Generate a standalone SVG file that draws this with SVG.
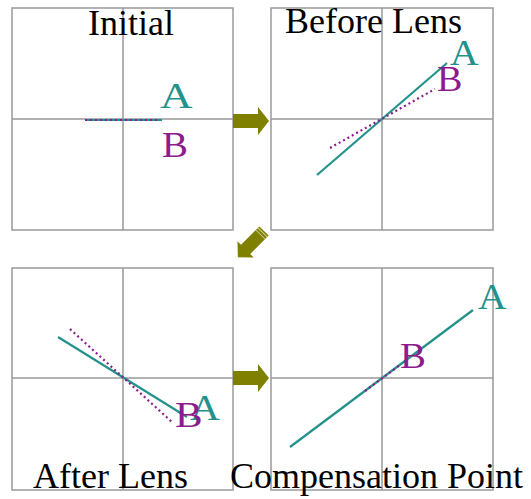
<svg xmlns="http://www.w3.org/2000/svg" width="531" height="499" viewBox="0 0 531 499">
<style>
.grid{fill:none;stroke:#999;stroke-width:1.5}
.a{stroke:#23918c;stroke-width:2.2;fill:none}
.b{stroke:#8e1b8e;stroke-width:2.2;fill:none;stroke-dasharray:2 3}
.arr{fill:#7f7f00}
</style>
<rect width="531" height="499" fill="#fff"/>
<g id="panel-initial">
<rect class="grid" x="12" y="8" width="221" height="222"/>
<line class="grid" x1="123" y1="8" x2="123" y2="230"/>
<line class="grid" x1="12" y1="119" x2="233" y2="119"/>
<text x="88" y="35" font-family="Liberation Serif" font-size="36" fill="#000">Initial</text>
<line class="a" x1="85" y1="120" x2="162" y2="120"/>
<line class="b" x1="85" y1="120" x2="160" y2="120"/>
<text transform="translate(160,108) scale(1.25,1)" font-family="Liberation Serif" font-size="36" fill="#23918c">A</text>
<text transform="translate(162,157) scale(1.08,1)" font-family="Liberation Serif" font-size="36" fill="#8e1b8e">B</text>
</g>
<g id="panel-before-lens">
<rect class="grid" x="271" y="8" width="222" height="222"/>
<line class="grid" x1="382" y1="8" x2="382" y2="230"/>
<line class="grid" x1="271" y1="119" x2="493" y2="119"/>
<text x="285" y="33" font-family="Liberation Serif" font-size="36" fill="#000">Before Lens</text>
<line class="a" x1="317" y1="175" x2="447" y2="63"/>
<line class="b" x1="330" y1="148" x2="435" y2="89"/>
<text transform="translate(450,65) scale(1.1,1)" font-family="Liberation Serif" font-size="36" fill="#23918c">A</text>
<text transform="translate(437,91) scale(1.06,1)" font-family="Liberation Serif" font-size="36" fill="#8e1b8e">B</text>
</g>
<g id="panel-after-lens">
<rect class="grid" x="12" y="268" width="221" height="222"/>
<line class="grid" x1="123" y1="268" x2="123" y2="490"/>
<line class="grid" x1="12" y1="378" x2="233" y2="378"/>
<line class="a" x1="58" y1="337" x2="187" y2="417"/>
<line class="b" x1="70" y1="329" x2="173" y2="423"/>
<text transform="translate(190,420) scale(1.15,1)" font-family="Liberation Serif" font-size="36" fill="#23918c">A</text>
<text transform="translate(175,427) scale(1.15,1)" font-family="Liberation Serif" font-size="36" fill="#8e1b8e">B</text>
<text x="33" y="488" font-family="Liberation Serif" font-size="36" fill="#000">After Lens</text>
</g>
<g id="panel-compensation-point">
<rect class="grid" x="271" y="268" width="222" height="222"/>
<line class="grid" x1="382" y1="268" x2="382" y2="490"/>
<line class="grid" x1="271" y1="378" x2="493" y2="378"/>
<line class="a" x1="290" y1="447" x2="473" y2="310"/>
<line class="b" x1="365" y1="391" x2="400" y2="365"/>
<text transform="translate(478,309) scale(1.1,1)" font-family="Liberation Serif" font-size="36" fill="#23918c">A</text>
<text transform="translate(400,368) scale(1.08,1)" font-family="Liberation Serif" font-size="36" fill="#8e1b8e">B</text>
<text x="230" y="488" font-family="Liberation Serif" font-size="36" fill="#000">Compensation Point</text>
</g>
<g id="connectors">
<polygon class="arr" points="233,114 258,114 258,107 269,121 258,135 258,128 233,128"/>
<polygon class="arr" points="233,371 258,371 258,364 269,378 258,392 258,385 233,385"/>
<g transform="translate(264,231) rotate(135)">
<polygon class="arr" points="0,-6.5 26,-6.5 26,-11.5 37,0 26,11.5 26,6.5 0,6.5"/>
<line x1="2" y1="-6.5" x2="2" y2="6.5" stroke="#d8d8a0" stroke-width="1"/>
<line x1="5" y1="-6.5" x2="5" y2="6.5" stroke="#c4c480" stroke-width="1"/>
</g>
</g>
</svg>
